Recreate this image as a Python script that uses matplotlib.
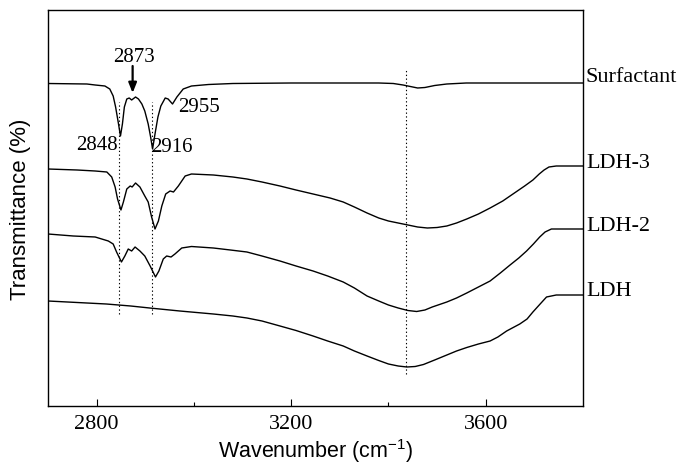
"""
FTIR spectra of surfactant and LDH samples, stacked with offsets.
"""

import matplotlib
matplotlib.use('Agg')
import matplotlib.pyplot as plt
from matplotlib.ticker import FixedLocator

plt.rcParams['font.family'] = ['Liberation Serif', 'DejaVu Serif']
plt.rcParams['mathtext.fontset'] = 'custom'
plt.rcParams['mathtext.rm'] = 'Liberation Sans'

# spectra (wavenumber, offset transmittance in arbitrary units)
surf_wn = [2700, 2780, 2797, 2817, 2827, 2834, 2839, 2845, 2849, 2853,
           2857, 2862, 2867, 2872, 2880, 2886, 2893, 2899, 2906, 2911,
           2915, 2920, 2926, 2932, 2941, 2947, 2956, 2965, 2978, 2995,
           3030, 3080, 3200, 3380, 3410, 3430, 3445, 3460, 3475, 3495,
           3520, 3560, 3800]
surf_y = [322.5, 322, 321, 320, 317, 310, 299, 282, 270, 282,
          299, 307, 308, 306, 309, 307, 302, 295, 282, 269,
          257, 272, 289, 300, 308, 307, 302, 309, 317, 320,
          321.5, 322.5, 323, 323, 322.5, 321, 319.5, 318, 318.5, 320.5,
          322, 323, 323]

ldh3_wn = [2700, 2760, 2797, 2821, 2831, 2838, 2843, 2850, 2855, 2862,
           2869, 2873, 2880, 2889, 2899, 2906, 2913, 2920, 2927, 2934,
           2942, 2951, 2958, 2968, 2982, 2995, 3040, 3080, 3109, 3140,
           3177, 3210, 3245, 3280, 3307, 3330, 3356, 3380, 3400, 3420,
           3440, 3460, 3480, 3500, 3520, 3540, 3561, 3585, 3609, 3635,
           3656, 3680, 3697, 3710, 3720, 3730, 3745, 3800]
ldh3_y = [237, 236, 235, 234, 229, 219, 207, 196, 204, 217,
          220, 219, 223, 219, 210, 204, 189, 177, 185, 200,
          212, 215, 214, 220, 230, 232, 231, 229, 227, 224,
          220, 216, 212, 208, 204, 199, 193, 188, 185, 183,
          181, 179, 178, 178.5, 180, 183, 187, 192, 198, 205,
          212, 220, 226, 232, 236, 239, 240, 240]

ldh2_wn = [2700, 2752, 2797, 2824, 2834, 2841, 2851, 2858, 2865, 2872,
           2879, 2889, 2899, 2910, 2921, 2928, 2937, 2944, 2953, 2961,
           2975, 2995, 3040, 3075, 3109, 3140, 3177, 3210, 3245, 3275,
           3307, 3330, 3356, 3380, 3400, 3420, 3440, 3458, 3475, 3490,
           3520, 3540, 3561, 3585, 3609, 3630, 3650, 3668, 3684, 3698,
           3711, 3722, 3735, 3800]
ldh2_y = [172, 170, 169, 165, 162, 154, 144, 150, 157, 155,
          159, 155, 150, 140, 129, 135, 147, 150, 149, 152,
          158, 159.5, 158, 156, 154, 150, 145, 140, 135, 130,
          124, 118, 110, 105, 101, 98, 95.5, 94.5, 96, 99,
          104, 108, 113, 119, 125, 133, 141, 148, 155, 162,
          169, 174, 177, 177]

ldh_wn = [2700, 2760, 2820, 2870, 2909, 2971, 3040, 3080, 3109, 3140,
          3177, 3210, 3245, 3275, 3307, 3330, 3356, 3380, 3400, 3420,
          3438, 3455, 3472, 3495, 3520, 3540, 3561, 3585, 3609, 3625,
          3643, 3670, 3685, 3697, 3710, 3725, 3745, 3800]
ldh_y = [105, 103.5, 102, 100, 98, 95, 92, 90, 88, 85,
         80, 75.5, 70, 65, 60, 55, 50, 45.5, 42, 40,
         39, 39.5, 41.5, 46, 51, 55, 58.5, 62, 65, 69,
         75, 82, 87, 94, 101, 109, 111, 111]

names = ['Surfactant', 'LDH-3', 'LDH-2', 'LDH']
name_y = [329, 244, 180, 116]

# dotted guide lines: (wavenumber, bottom, top)
guides = [(2847, 92, 304), (2913, 92, 304), (3436, 32, 337)]

# peak labels: (text, x, y, ha)
peaks = [('2848', 2843, 261, 'right'), ('2916', 2912, 259, 'left'),
         ('2955', 2967, 299, 'left')]


def main():
    fig = plt.figure(figsize=(6.81, 4.64), dpi=100)
    ax = fig.add_axes([48 / 681, 57 / 464, 535 / 681, 396 / 464])

    for wn, y in [(surf_wn, surf_y), (ldh3_wn, ldh3_y),
                  (ldh2_wn, ldh2_y), (ldh_wn, ldh_y)]:
        ax.plot(wn, y, color='black', lw=1.0, solid_joinstyle='round')

    for x, y0, y1 in guides:
        ax.plot([x, x], [y0, y1], color='black', lw=0.8, ls=(0, (1.2, 2.2)))

    for name, y in zip(names, name_y):
        ax.text(3806, y, name, fontsize=16, ha='left', va='center',
                clip_on=False)

    for txt, x, y, ha in peaks:
        ax.text(x, y, txt, fontsize=15, ha=ha, va='center')

    ax.text(2876, 349, '2873', fontsize=15, ha='center', va='center')
    ax.annotate('', xy=(2874, 313), xytext=(2874, 340),
                arrowprops=dict(arrowstyle='-|>,head_length=0.6,head_width=0.24',
                                color='black', lw=1.6, shrinkA=0, shrinkB=0))

    ax.set_xlim(2700, 3800)
    ax.set_ylim(0, 396)
    ax.set_yticks([])
    ax.xaxis.set_major_locator(FixedLocator([2800, 3200, 3600]))
    ax.xaxis.set_minor_locator(FixedLocator([3000, 3400]))
    ax.tick_params(axis='x', which='major', direction='in', length=5,
                   width=0.8, labelsize=16, pad=6)
    ax.tick_params(axis='x', which='minor', direction='in', length=3,
                   width=0.8)
    for s in ax.spines.values():
        s.set_linewidth(1.0)

    ax.set_xlabel('Wavenumber (cm$^{\\mathregular{-1}}$)', fontsize=15.5,
                  family='Liberation Sans')
    ax.set_ylabel('Transmittance (%)', fontsize=16, family='Liberation Sans')
    ax.xaxis.set_label_coords(0.5, -0.077)
    ax.yaxis.set_label_coords(-0.031, 0.5)

    fig.savefig('out.png', dpi=100)


if __name__ == '__main__':
    main()
